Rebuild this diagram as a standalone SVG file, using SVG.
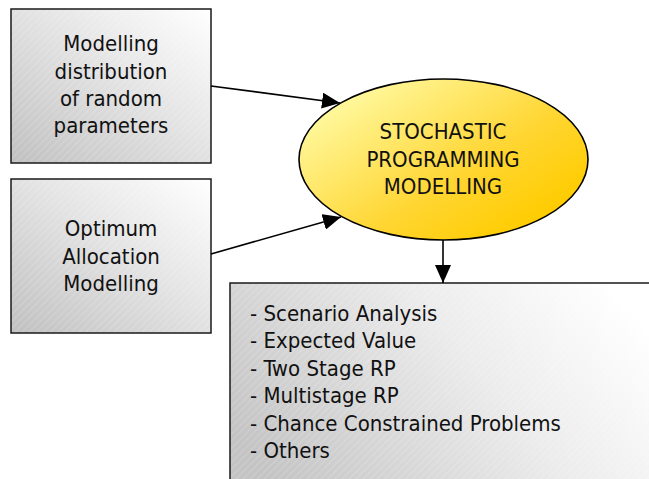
<svg xmlns="http://www.w3.org/2000/svg" width="649" height="479" viewBox="0 0 649 479">
<defs>
<linearGradient id="boxGrad" x1="0" y1="1" x2="1" y2="0">
<stop offset="0" stop-color="#c0c0c0"/>
<stop offset="0.55" stop-color="#e4e4e4"/>
<stop offset="1" stop-color="#ffffff"/>
</linearGradient>
<linearGradient id="wideGrad" x1="0" y1="0.7" x2="1" y2="0.3">
<stop offset="0" stop-color="#c4c4c4"/>
<stop offset="0.6" stop-color="#ececec"/>
<stop offset="1" stop-color="#ffffff"/>
</linearGradient>
<linearGradient id="ellGrad" x1="0.15" y1="0.15" x2="0.9" y2="0.8">
<stop offset="0" stop-color="#fff79a"/>
<stop offset="0.6" stop-color="#ffd633"/>
<stop offset="1" stop-color="#ffcc00"/>
</linearGradient>
<pattern id="hatch" width="5" height="5" patternUnits="userSpaceOnUse" patternTransform="rotate(45)">
<line x1="0" y1="0" x2="0" y2="5" stroke="#ffffff" stroke-width="1" stroke-opacity="0.35"/>
</pattern>
<marker id="arrow" markerUnits="userSpaceOnUse" markerWidth="18" markerHeight="16" refX="18" refY="8" orient="auto">
<path d="M0,0 L18,8 L0,16 Z" fill="#000"/>
</marker>
</defs>
<style>
.box{stroke:#1a1a1a;stroke-width:1.5}
.t{font-family:"DejaVu Sans Condensed","DejaVu Sans",sans-serif;font-stretch:condensed;font-size:22px;fill:#111}
.c{text-anchor:middle}
.conn{stroke:#000;stroke-width:1.6;fill:none}
</style>
<g id="node-distribution">
<rect x="11" y="9" width="200" height="154" fill="url(#boxGrad)"/>
<rect class="box" x="11" y="9" width="200" height="154" fill="url(#hatch)"/>
<text class="t c" x="111" y="51">Modelling</text>
<text class="t c" x="111" y="79">distribution</text>
<text class="t c" x="111" y="106">of random</text>
<text class="t c" x="111" y="133">parameters</text>
</g>
<g id="node-allocation">
<rect x="11" y="179" width="200" height="154" fill="url(#boxGrad)"/>
<rect class="box" x="11" y="179" width="200" height="154" fill="url(#hatch)"/>
<text class="t c" x="111" y="236">Optimum</text>
<text class="t c" x="111" y="264">Allocation</text>
<text class="t c" x="111" y="291">Modelling</text>
</g>
<g id="node-stochastic">
<ellipse cx="443.5" cy="159.5" rx="144.5" ry="80.5" fill="url(#ellGrad)" stroke="#000" stroke-width="1.6"/>
<text class="t c" x="443" y="139">STOCHASTIC</text>
<text class="t c" x="443" y="167">PROGRAMMING</text>
<text class="t c" x="443" y="194">MODELLING</text>
</g>
<g id="node-methods">
<rect x="230" y="283" width="430" height="210" fill="url(#wideGrad)"/>
<rect class="box" x="230" y="283" width="430" height="210" fill="url(#hatch)"/>
<text class="t" x="250" y="321">- Scenario Analysis</text>
<text class="t" x="250" y="348">- Expected Value</text>
<text class="t" x="250" y="376">- Two Stage RP</text>
<text class="t" x="250" y="403">- Multistage RP</text>
<text class="t" x="250" y="431">- Chance Constrained Problems</text>
<text class="t" x="250" y="458">- Others</text>
</g>
<g id="connectors">
<line class="conn" x1="211" y1="86" x2="340" y2="103" marker-end="url(#arrow)"/>
<line class="conn" x1="211" y1="254" x2="341" y2="217" marker-end="url(#arrow)"/>
<line class="conn" x1="443" y1="240" x2="443" y2="283" marker-end="url(#arrow)"/>
</g>
</svg>
